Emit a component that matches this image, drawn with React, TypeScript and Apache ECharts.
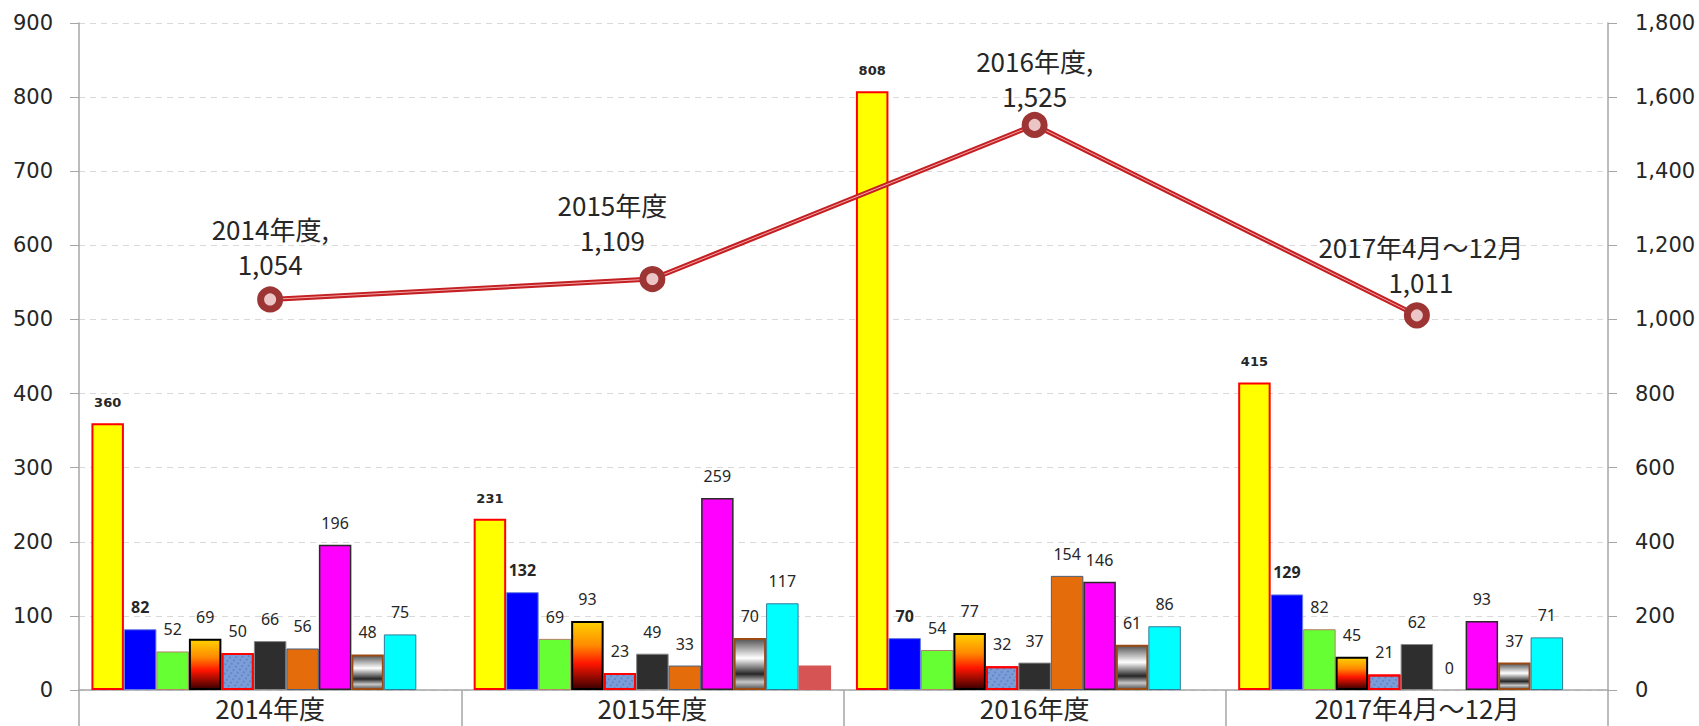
import React, { useEffect, useRef } from "react";
import * as echarts from "echarts";

const categories = ["2014年度", "2015年度", "2016年度", "2017年4月～12月"];

const s1 = [360, 231, 808, 415];
const s2 = [82, 132, 70, 129];
const s3 = [52, 69, 54, 82];
const s4 = [69, 93, 77, 45];
const s5 = [50, 23, 32, 21];
const s6 = [66, 49, 37, 62];
const s7 = [56, 33, 154, 0];
const s8 = [196, 259, 146, 93];
const s9 = [48, 70, 61, 37];
const s10 = [75, 117, 86, 71];
const s11: (number | string)[] = ["-", 33, "-", "-"];

const totals = [1054, 1109, 1525, 1011];
const totalHeads = ["2014年度,", "2015年度", "2016年度,", "2017年4月～12月"];

const leftTicks = { min: 0, max: 900, interval: 100 };
const rightTicks = { min: 0, max: 1800, interval: 200 };

export default function App() {
  const ref = useRef<HTMLDivElement>(null);
  useEffect(() => {
    document.body.style.margin = "0";
    const chart = echarts.init(ref.current!, null, { renderer: "svg" });
    const G = echarts.graphic.LinearGradient;
    const lbl = (bold: boolean, size = 16, family = "Noto Sans") => ({
      show: true,
      position: "top",
      distance: 14,
      fontSize: size,
      fontFamily: family,
      fontWeight: bold ? "bold" : "normal",
      color: "#262626",
    });
    const noZeroBorder = (arr: any[]) =>
      arr.map((v) => (v === 0 ? { value: v, itemStyle: { borderWidth: 0 } } : v));
    const bar = (name: string, data: any[], itemStyle: any, label: any) => ({
      name,
      type: "bar",
      data: noZeroBorder(data),
      barGap: "0%",
      barCategoryGap: "6.5%",
      itemStyle,
      label,
    });
    const lineOffsets = [[0, 0], [-40, -4], [0, 6], [4, 2]];
    const series: any[] = [
      bar("s1", s1, { color: "#ffff00", borderColor: "#ff0000", borderWidth: 2 }, lbl(true, 13, "DejaVu Sans")),
      bar("s2", s2, { color: "#0000ff", borderColor: "#6a7fe0", borderWidth: 1 }, lbl(true)),
      bar("s3", s3, { color: "#66ff33", borderColor: "#b5806a", borderWidth: 1 }, lbl(false)),
      bar("s4", s4, {
        color: new G(0, 0, 0, 1, [
          { offset: 0, color: "#ffd200" },
          { offset: 0.35, color: "#ff8a00" },
          { offset: 0.62, color: "#ff1500" },
          { offset: 1, color: "#3a0000" },
        ]),
        borderColor: "#000000",
        borderWidth: 2,
      }, lbl(false)),
      bar("s5", s5, {
        color: "#7b9ed8",
        borderColor: "#ff0000",
        borderWidth: 2,
        decal: {
          symbol: "rect",
          color: "rgba(40,70,150,0.45)",
          symbolSize: 0.8,
          dashArrayX: [2, 3],
          dashArrayY: [2, 2],
          rotation: 0.6,
        },
      }, lbl(false)),
      bar("s6", s6, { color: "#2e2e2e", borderColor: "#888888", borderWidth: 1 }, lbl(false)),
      bar("s7", s7, { color: "#e46c0a", borderColor: "#46607e", borderWidth: 1 }, lbl(false)),
      bar("s8", s8, { color: "#ff00ff", borderColor: "#2a2a2a", borderWidth: 1.5 }, lbl(false)),
      bar("s9", s9, {
        color: new G(0, 0, 0, 1, [
          { offset: 0, color: "#555555" },
          { offset: 0.38, color: "#ffffff" },
          { offset: 0.7, color: "#262626" },
          { offset: 0.86, color: "#c8c8c8" },
          { offset: 1, color: "#555555" },
        ]),
        borderColor: "#9a4a12",
        borderWidth: 2,
      }, lbl(false)),
      bar("s10", s10, { color: "#00ffff", borderColor: "#2f7d9a", borderWidth: 1 }, lbl(false)),
      bar("s11", s11, { color: "#d65454" }, { show: false }),
      {
        name: "total",
        type: "line",
        yAxisIndex: 1,
        data: totals,
        showSymbol: false,
        lineStyle: { color: "#c41f22", width: 5 },
        z: 5,
        silent: true,
      },
      {
        name: "total2",
        type: "line",
        yAxisIndex: 1,
        data: totals.map((v, i) => ({
          value: v,
          label: { offset: lineOffsets[i] },
        })),
        symbol: "circle",
        symbolSize: 19,
        itemStyle: { color: "#ecc6c6", borderColor: "#9e3535", borderWidth: 7 },
        lineStyle: { color: "#f2a8a8", width: 1 },
        z: 6,
        label: {
          show: true,
          position: "top",
          distance: 5,
          fontSize: 26,
          lineHeight: 35,
          fontFamily: "Noto Sans CJK JP",
          color: "#262626",
          formatter: (p: any) =>
            totalHeads[p.dataIndex] + "\n" + Number(p.value).toLocaleString("en-US"),
        },
      },
    ];
    chart.setOption({
      animation: false,
      grid: { left: 79, right: 91, top: 23, bottom: 36, containLabel: false },
      xAxis: {
        type: "category",
        data: categories,
        boundaryGap: true,
        axisLine: { lineStyle: { color: "#a6a6a6", width: 1.5 } },
        axisTick: { show: true, length: 36, lineStyle: { color: "#a6a6a6", width: 1.5 } },
        axisLabel: {
          fontSize: 26,
          fontFamily: "Noto Sans CJK JP",
          color: "#262626",
          margin: 4,
        },
      },
      yAxis: [
        {
          type: "value",
          ...leftTicks,
          axisLine: { show: true, lineStyle: { color: "#a6a6a6", width: 1.5 } },
          axisTick: { show: true, length: 9, lineStyle: { color: "#a6a6a6" } },
          axisLabel: { fontSize: 21, fontFamily: "DejaVu Sans", color: "#262626", margin: 26 },
          splitLine: { show: true, lineStyle: { color: "#d9d9d9", type: [6, 5] } },
        },
        {
          type: "value",
          ...rightTicks,
          axisLine: { show: true, lineStyle: { color: "#a6a6a6", width: 1.5 } },
          axisTick: { show: true, length: 9, lineStyle: { color: "#a6a6a6" } },
          axisLabel: {
            fontSize: 21,
            fontFamily: "DejaVu Sans",
            color: "#262626",
            margin: 27,
            formatter: (v: number) => v.toLocaleString("en-US"),
          },
          splitLine: { show: false },
        },
      ],
      series,
    });
    return () => chart.dispose();
  }, []);
  return <div ref={ref} style={{ width: 1699, height: 726, background: "#fff" }} />;
}
